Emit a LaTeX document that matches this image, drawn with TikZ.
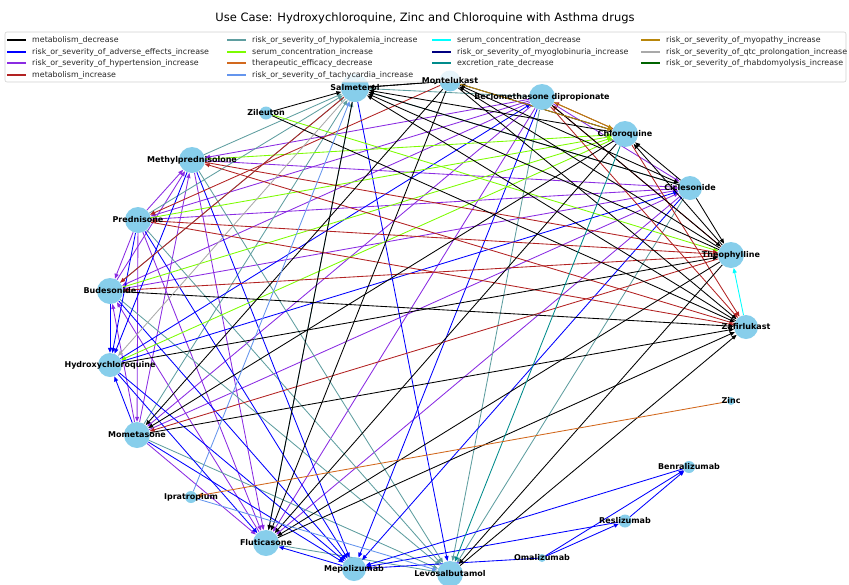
\documentclass[tikz,border=0pt]{standalone}
\usepackage{fontspec}
\setmainfont{DejaVu Sans}
\usetikzlibrary{arrows.meta}
\pgfdeclarelayer{edges}
\pgfsetlayers{edges,main}
\definecolor{skyb}{HTML}{87CEEB}
\definecolor{cMetDec}{HTML}{000000}
\definecolor{cAdv}{HTML}{0000FF}
\definecolor{cHyp}{HTML}{8A2BE2}
\definecolor{cMetInc}{HTML}{B22222}
\definecolor{cHypok}{HTML}{5F9EA0}
\definecolor{cSerInc}{HTML}{7CFC00}
\definecolor{cTher}{HTML}{D2691E}
\definecolor{cTachy}{HTML}{6495ED}
\definecolor{cSerDec}{HTML}{00FFFF}
\definecolor{cMyog}{HTML}{000080}
\definecolor{cExcr}{HTML}{008B8B}
\definecolor{cMyop}{HTML}{B8860B}
\definecolor{cQtc}{HTML}{A9A9A9}
\definecolor{cRhab}{HTML}{006400}
\tikzset{
  nd/.style={circle, fill=skyb, draw=none, inner sep=0pt, minimum size=#1},
  lbl/.style={font=\fontsize{8}{9}\selectfont\bfseries, text=black, inner sep=0pt},
  edg/.style={line width=0.85pt, -{Triangle[length=5pt,width=4pt]}},
  legtxt/.style={font=\fontsize{7.9}{9}\selectfont, text=black!85, anchor=west, inner sep=0pt},
  legline/.style={line width=1.1pt}
}
\begin{document}
\begin{tikzpicture}[x=1pt,y=-1pt]
\useasboundingbox (0,0) rectangle (849,584);
% nodes
\node[nd=28] (sal) at (355,88) {};
\node[nd=21] (mon) at (450,81) {};
\node[nd=26] (bec) at (542,97) {};
\node[nd=26] (chl) at (625,134) {};
\node[nd=24] (cic) at (690,188) {};
\node[nd=26] (the) at (731,255) {};
\node[nd=24] (zaf) at (746,327) {};
\node[nd=8]  (zin) at (731,401) {};
\node[nd=12] (ben) at (689,467) {};
\node[nd=13] (res) at (625,521) {};
\node[nd=8]  (oma) at (542,558) {};
\node[nd=26] (lev) at (450,574) {};
\node[nd=24] (mep) at (354,569) {};
\node[nd=26] (flu) at (266,543) {};
\node[nd=12] (ipr) at (191,497) {};
\node[nd=26] (mom) at (137,435) {};
\node[nd=24] (hcq) at (110,365) {};
\node[nd=26] (bud) at (110,291) {};
\node[nd=26] (pre) at (138,220) {};
\node[nd=26] (met) at (192,160) {};
\node[nd=13] (zil) at (266,113) {};
% edges
\begin{pgfonlayer}{edges}
\foreach \a/\b in {pre/met, bud/met, mom/met, met/flu, bec/met, met/cic, pre/bud, pre/mom, pre/flu, bec/pre, pre/cic, mom/bud, flu/bud, bec/bud, bud/cic, mom/flu, bec/mom, mom/cic, bec/flu, cic/flu, bec/cic}
  \draw[edg, cHyp] (\a) -- (\b);
\foreach \a/\b in {met/sal, pre/sal, bud/sal, mom/sal, flu/sal, bec/sal, cic/sal, met/lev, pre/lev, bud/lev, mom/lev, flu/lev, bec/lev, cic/lev}
  \draw[edg, cHypok] (\a) -- (\b);
\foreach \a/\b in {bud/hcq, pre/hcq, met/hcq, mom/hcq, hcq/bec, hcq/cic, hcq/flu, met/mep, pre/mep, bud/mep, hcq/mep, mom/mep, bec/mep, cic/mep, mep/flu, ben/mep, res/mep, oma/mep, oma/res, oma/ben, res/ben, sal/lev}
  \draw[edg, cAdv] (\a) -- (\b);
\foreach \a/\b in {met/chl, pre/chl, bud/chl, chl/hcq, zil/the}
  \draw[edg, cSerInc] (\a) -- (\b);
\foreach \a/\b in {chl/bec, the/bec, bec/zaf, chl/zaf, zaf/met, met/the, pre/zaf, the/pre, the/bud, the/mom, mon/pre, sal/bud}
  \draw[edg, cMetInc] (\a) -- (\b);
\foreach \a/\b in {mon/sal, sal/mon, zil/sal, zil/zaf, chl/sal, cic/sal, the/sal, zaf/sal, the/mon, chl/mon, sal/flu, mon/flu, chl/flu, mon/mom, chl/mom, hcq/the, bud/zaf, mom/zaf, flu/zaf, the/lev, lev/zaf, cic/the, cic/chl, the/chl, bec/the, the/flu, mon/zaf, mon/cic}
  \draw[edg, cMetDec] (\a) -- (\b);
\draw[edg, cMyop] (mon) -- (chl);
\draw[edg, cMyop] (bec) -- (chl);
\draw[edg, cSerDec] (zaf) -- (the);
\draw[edg, cExcr] (chl) -- (lev);
\draw[edg, cTher] (zin) -- (ipr);
\draw[edg, cQtc] (sal) -- (hcq);
\draw[edg, cTachy] (ipr) -- (sal);
\draw[edg, cTachy] (ipr) -- (lev);
\end{pgfonlayer}
% legend (semi-transparent, above edges and node discs)
\draw[draw=black!18, fill=white, fill opacity=0.8, rounded corners=2pt, line width=0.6pt] (5,32) rectangle (846,82);
\foreach \c/\t/\x/\y in {
  cMetDec/metabolism\_decrease/7/40,
  cAdv/risk\_or\_severity\_of\_adverse\_effects\_increase/7/52,
  cHyp/risk\_or\_severity\_of\_hypertension\_increase/7/63,
  cMetInc/metabolism\_increase/7/75,
  cHypok/risk\_or\_severity\_of\_hypokalemia\_increase/227/40,
  cSerInc/serum\_concentration\_increase/227/52,
  cTher/therapeutic\_efficacy\_decrease/227/63,
  cTachy/risk\_or\_severity\_of\_tachycardia\_increase/227/75,
  cSerDec/serum\_concentration\_decrease/432/40,
  cMyog/risk\_or\_severity\_of\_myoglobinuria\_increase/432/52,
  cExcr/excretion\_rate\_decrease/432/63,
  cMyop/risk\_or\_severity\_of\_myopathy\_increase/641/40,
  cQtc/risk\_or\_severity\_of\_qtc\_prolongation\_increase/641/52,
  cRhab/risk\_or\_severity\_of\_rhabdomyolysis\_increase/641/63}
{
  \draw[legline, \c] (\x,\y) -- ++(19,0);
  \node[legtxt] at ({\x+25},\y) {\t};
}
% labels
\node[lbl] at (sal) {Salmeterol};
\node[lbl] at (mon) {Montelukast};
\node[lbl] at (bec) {Beclomethasone dipropionate};
\node[lbl] at (chl) {Chloroquine};
\node[lbl] at (cic) {Ciclesonide};
\node[lbl] at (the) {Theophylline};
\node[lbl] at (zaf) {Zafirlukast};
\node[lbl] at (zin) {Zinc};
\node[lbl] at (ben) {Benralizumab};
\node[lbl] at (res) {Reslizumab};
\node[lbl] at (oma) {Omalizumab};
\node[lbl] at (lev) {Levosalbutamol};
\node[lbl] at (mep) {Mepolizumab};
\node[lbl] at (flu) {Fluticasone};
\node[lbl] at (ipr) {Ipratropium};
\node[lbl] at (mom) {Mometasone};
\node[lbl] at (hcq) {Hydroxychloroquine};
\node[lbl] at (bud) {Budesonide};
\node[lbl] at (pre) {Prednisone};
\node[lbl] at (met) {Methylprednisolone};
\node[lbl] at (zil) {Zileuton};
% title
\node[font=\fontsize{11.5}{13}\selectfont, inner sep=0pt] (title) at (425,18) {Use Case: Hydroxychloroquine, Zinc and Chloroquine with Asthma drugs};
\end{tikzpicture}
\end{document}
